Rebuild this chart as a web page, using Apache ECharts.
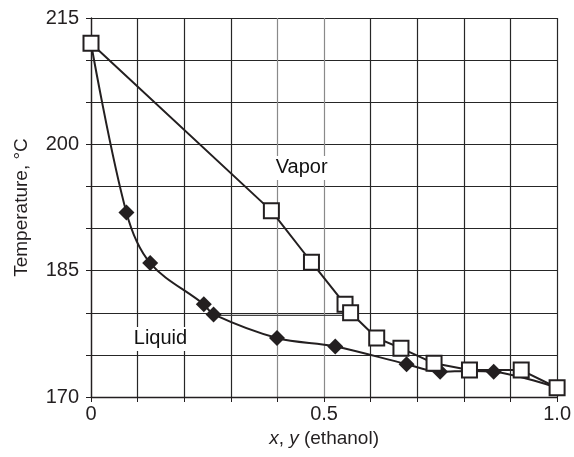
<!DOCTYPE html>
<html>
<head>
<meta charset="utf-8">
<script src="https://cdn.jsdelivr.net/npm/echarts@6/dist/echarts.min.js"></script>
<style>
  html, body { margin: 0; padding: 0; background: #fff; }
  #chart { width: 574px; height: 457px; }
</style>
</head>
<body>
<div id="chart"></div>
<script>
// vapour composition y vs temperature (open squares)
const vaporX = [0, 0.387, 0.473, 0.545, 0.557, 0.613, 0.665, 0.736, 0.812, 0.923, 1.0];
const vaporT = [212, 192.1, 186, 181, 180, 177, 175.8, 174, 173.2, 173.2, 171.1];

// liquid composition x vs temperature (filled diamonds)
const liquidX = [0, 0.076, 0.127, 0.242, 0.263, 0.399, 0.524, 0.677, 0.749, 0.812, 0.864, 1.0];
const liquidT = [212, 191.9, 185.9, 181, 179.8, 177, 176, 173.9, 173, 173.1, 173, 171.1];
// points with a marker (first/last/joined ones are hidden under squares)
const liquidMarked = [false, true, true, true, true, true, true, true, true, false, true, false];

// tie line between liquid and vapour near 180 °C
const tieX = [0.263, 0.557];
const tieT = [179.7, 179.7];

// curve labels
const labelText = ['Vapor', 'Liquid'];
const labelX = [0.452, 0.149];
const labelT = [197.2, 176.9];

const yLabelEvery = 15;
const xLabels = { '0': '0', '0.5': '0.5', '1': '1.0' };

const ink = '#231f20';
const gridInk = '#262626';
const font = 'Liberation Sans, Arial, Helvetica, sans-serif';

// vertical grid lines at x = 0.4 and 0.5 are printed lighter
const xGridColors = [gridInk, gridInk, gridInk, gridInk, '#8a8a8a', '#8a8a8a', gridInk, gridInk, gridInk, gridInk, gridInk];

const chart = echarts.init(document.getElementById('chart'));

const pairs = (xs, ys) => xs.map((x, i) => [x, ys[i]]);

const option = {
    animation: false,
    backgroundColor: '#fff',
    grid: { left: 91, right: 14, top: 18, bottom: 60 },
    xAxis: {
        type: 'value',
        min: 0, max: 1, interval: 0.1,
        name: '{i|x}, {i|y} (ethanol)',
        nameLocation: 'middle',
        nameGap: 32,
        nameTextStyle: {
            color: ink, fontFamily: font, fontSize: 19,
            rich: { i: { fontStyle: 'italic', color: ink, fontFamily: font, fontSize: 19 } }
        },
        axisLine: { lineStyle: { color: ink, width: 1.3 } },
        axisTick: { show: true, inside: false, length: 5, lineStyle: { color: ink } },
        axisLabel: {
            color: ink, fontFamily: font, fontSize: 20, margin: 7,
            formatter: v => {
                const k = String(Math.round(v * 10) / 10);
                return xLabels[k] !== undefined ? xLabels[k] : '';
            }
        },
        splitLine: { show: true, lineStyle: { color: xGridColors, width: 1.2 } }
    },
    yAxis: {
        type: 'value',
        min: 170, max: 215, interval: 5,
        name: 'Temperature, °C',
        nameLocation: 'middle',
        nameGap: 60,
        nameTextStyle: { color: ink, fontFamily: font, fontSize: 19 },
        axisLine: { show: true, lineStyle: { color: ink, width: 1.3 } },
        axisTick: { show: true, inside: false, length: 5, lineStyle: { color: ink } },
        axisLabel: {
            color: ink, fontFamily: font, fontSize: 20, margin: 12,
            formatter: v => ((v - 170) % yLabelEvery === 0 ? String(v) : '')
        },
        splitLine: { show: true, lineStyle: { color: gridInk, width: 1.2 } }
    },
    series: [
        {
            name: 'tie',
            type: 'line',
            data: pairs(tieX, tieT),
            symbol: 'none',
            lineStyle: { color: '#444', width: 1.2 },
            z: 2
        },
        {
            name: 'labels',
            type: 'scatter',
            data: labelX.map((x, i) => ({ value: [x, labelT[i]], name: labelText[i] })),
            symbolSize: 0,
            itemStyle: { opacity: 1 },
            label: {
                show: true,
                position: 'inside',
                formatter: p => p.name,
                color: '#111',
                opacity: 1,
                fontFamily: font,
                fontSize: 20,
                backgroundColor: '#fff',
                padding: [2, 1, 2, 1]
            },
            z: 3
        },
        {
            name: 'Liquid',
            type: 'line',
            data: liquidX.map((x, i) => ({
                value: [x, liquidT[i]],
                symbolSize: liquidMarked[i] ? 16 : 0
            })),
            smooth: 0.35,
            symbol: 'diamond',
            showAllSymbol: true,
            lineStyle: { color: ink, width: 2 },
            itemStyle: { color: ink, borderColor: ink, borderWidth: 0 },
            z: 4
        },
        {
            name: 'Vapor',
            type: 'line',
            data: pairs(vaporX, vaporT),
            symbol: 'rect',
            symbolSize: 15,
            showAllSymbol: true,
            lineStyle: { color: ink, width: 2 },
            itemStyle: { color: '#fff', borderColor: ink, borderWidth: 2 },
            z: 5
        }
    ]
};

chart.setOption(option);
window.addEventListener('resize', () => chart.resize());
</script>
</body>
</html>
